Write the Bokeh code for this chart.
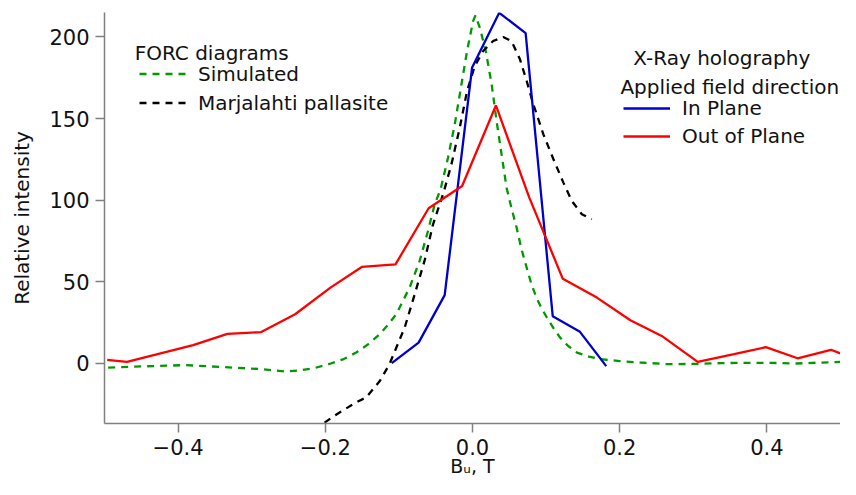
from bokeh.plotting import figure
from bokeh.models import Range1d, FixedTicker, Legend, LegendItem, Label
from bokeh.embed import file_html
from bokeh.resources import INLINE

# ---------------- data ----------------
sim_x = [-0.495, -0.45, -0.39, -0.326, -0.2855, -0.2536, -0.235, -0.2145, -0.1945, -0.175, -0.158,
         -0.142, -0.126, -0.115, -0.1036, -0.0855, -0.0718, -0.0605, -0.0514, -0.0434, -0.0333,
         -0.0241, -0.015, -0.0074, 0.0008, 0.004, 0.01, 0.018, 0.026, 0.0327, 0.0395, 0.0463,
         0.053, 0.06, 0.0665, 0.0736, 0.08, 0.087, 0.094, 0.101, 0.11, 0.119, 0.13, 0.142, 0.158,
         0.174, 0.2, 0.228, 0.2645, 0.3, 0.337, 0.37, 0.405, 0.44, 0.47, 0.5]
sim_y = [-2.7, -2.0, -1.2, -2.7, -3.7, -5.1, -4.5, -3.0, -0.5, 2.5, 6.5,
         11.5, 17.8, 23.5, 30.0, 46.3, 62.7, 81.0, 97.4, 106.5, 126.0,
         146.4, 171.0, 191.4, 209.7, 213.2, 205.6, 191.4, 171.0, 148.5, 128.0, 107.6,
         95.0, 83.0, 70.0, 58.6, 48.5, 40.0, 33.5, 28.0, 21.5, 15.7, 10.5, 6.5, 4.0,
         2.4, 1.3, 0.4, -0.6, -0.5, 0.0, 0.2, 0.2, -0.2, 0.3, 0.8]

mar_x = [-0.201, -0.19, -0.176, -0.16, -0.1445, -0.126, -0.1128, -0.092, -0.0787, -0.065,
         -0.0537, -0.039, -0.0286, -0.0173, -0.0074, 0.003, 0.0145, 0.028, 0.0417, 0.053,
         0.0645, 0.0736, 0.0827, 0.0963, 0.11, 0.1235, 0.135, 0.1486, 0.162]
mar_y = [-36.5, -33.0, -29.0, -24.5, -21.0, -11.0, -0.6, 22.0, 42.0, 63.0,
         85.0, 105.0, 122.0, 144.4, 166.8, 182.0, 191.4, 197.5, 200.0, 197.5,
         186.3, 173.0, 158.7, 140.3, 125.0, 110.7, 99.4, 91.3, 88.2]

inplane_x = [-0.1097, -0.0732, -0.0378, -0.0005, 0.0363, 0.0722, 0.109, 0.146, 0.1817]
inplane_y = [0.0, 12.6, 41.7, 181.3, 214.8, 202.4, 28.8, 19.2, -1.8]

outplane_x = [-0.4963, -0.4695, -0.3795, -0.333, -0.2877, -0.241, -0.193, -0.1505, -0.1046,
              -0.0596, -0.0141, 0.0318, 0.0772, 0.1227, 0.169, 0.2145, 0.2585, 0.306,
              0.3553, 0.3985, 0.4417, 0.487, 0.5]
outplane_y = [2.0, 0.8, 11.0, 18.0, 19.0, 30.0, 46.3, 59.0, 60.6,
              95.0, 108.6, 158.0, 101.5, 51.7, 40.2, 26.3, 16.3, 0.8,
              5.5, 9.8, 3.0, 8.2, 5.9]

x_ticks = [-0.4, -0.2, 0.0, 0.2, 0.4]
x_tick_labels = ["\u22120.4", "\u22120.2", "0.0", "0.2", "0.4"]
y_ticks = [0, 50, 100, 150, 200]

FONT = "DejaVu Sans"
AXIS_GRAY = "#808080"
TEXT = "#111111"
LW = 2.3

p = figure(width=840, height=479, x_range=Range1d(-0.5, 0.5), y_range=Range1d(-37, 215),
           output_backend="svg", toolbar_location=None,
           min_border_left=104, min_border_right=0, min_border_top=12, min_border_bottom=56)
p.outline_line_color = None
p.grid.visible = False
p.background_fill_color = "white"
p.border_fill_color = "white"

r_sim = p.line(sim_x, sim_y, line_color="#009900", line_width=LW, line_dash="7 6")
r_mar = p.line(mar_x, mar_y, line_color="black", line_width=LW, line_dash="7 6")
r_in = p.line(inplane_x, inplane_y, line_color="#0000CC", line_width=LW)
r_out = p.line(outplane_x, outplane_y, line_color="#FF0000", line_width=LW)

for ax in (p.xaxis[0], p.yaxis[0]):
    ax.axis_line_color = AXIS_GRAY
    ax.axis_line_width = 1.5
    ax.major_tick_line_color = AXIS_GRAY
    ax.major_tick_line_width = 1.5
    ax.major_tick_out = 9
    ax.major_tick_in = 0
    ax.minor_tick_line_color = None
    ax.major_label_text_font = FONT
    ax.major_label_text_font_size = "21px"
    ax.major_label_text_color = TEXT
    ax.axis_label_text_font = FONT
    ax.axis_label_text_font_style = "normal"
    ax.axis_label_text_color = TEXT

p.xaxis.ticker = FixedTicker(ticks=x_ticks)
p.xaxis.major_label_overrides = dict(zip(x_ticks, x_tick_labels))
p.xaxis.major_label_standoff = 6
p.xaxis.axis_label = "B\u1d64, T"
p.xaxis.axis_label_text_font_size = "19px"
p.xaxis.axis_label_standoff = -3

p.yaxis.ticker = FixedTicker(ticks=y_ticks)
p.yaxis.major_label_standoff = 6
p.yaxis.axis_label = "Relative intensity"
p.yaxis.axis_label_text_font_size = "20px"
p.yaxis.axis_label_standoff = 12

# legend titles
p.add_layout(Label(x=-0.459, y=190.3, text="FORC diagrams", text_baseline="alphabetic",
                   text_font=FONT, text_font_size="20px", text_color=TEXT))
p.add_layout(Label(x=0.2185, y=187.3, text="X-Ray holography", text_baseline="alphabetic",
                   text_font=FONT, text_font_size="20px", text_color=TEXT))
p.add_layout(Label(x=0.201, y=169.3, text="Applied field direction", text_baseline="alphabetic",
                   text_font=FONT, text_font_size="20px", text_color=TEXT))

def make_legend(items, loc, h):
    lg = Legend(items=items, location=loc, orientation="vertical")
    lg.border_line_color = None
    lg.background_fill_alpha = 0
    lg.padding = 0
    lg.margin = 0
    lg.spacing = 0
    lg.glyph_width = 47
    lg.glyph_height = h
    lg.label_height = h
    lg.label_standoff = 12
    lg.label_text_font = FONT
    lg.label_text_font_size = "20px"
    lg.label_text_color = TEXT
    lg.click_policy = "none"
    return lg

leg1 = make_legend([LegendItem(label="Simulated", renderers=[r_sim]),
                    LegendItem(label="Marjalahti pallasite", renderers=[r_mar])], (35, 306), 29)
leg2 = make_legend([LegendItem(label="In Plane", renderers=[r_in]),
                    LegendItem(label="Out of Plane", renderers=[r_out])], (519, 273), 28)
p.add_layout(leg1)
p.add_layout(leg2)

open("out.html", "w").write(file_html(p, INLINE))
